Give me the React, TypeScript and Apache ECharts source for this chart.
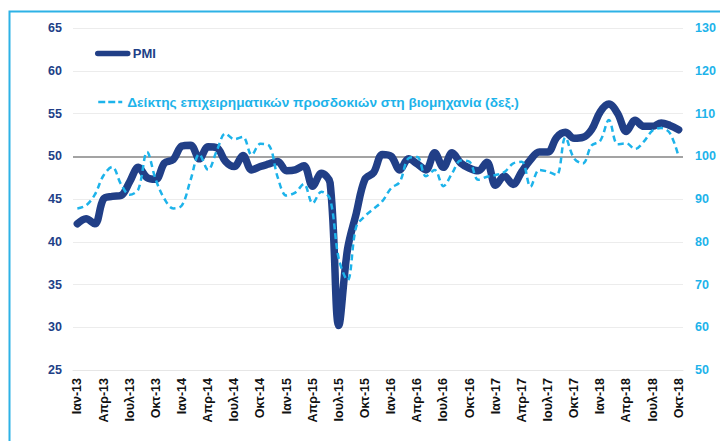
import React, { useEffect, useRef } from "react";
import * as echarts from "echarts";

const monthNames = ["Ιαν", "Φεβ", "Μαρ", "Απρ", "Μαϊ", "Ιουν", "Ιουλ", "Αυγ", "Σεπ", "Οκτ", "Νοε", "Δεκ"];
const years = ["13", "14", "15", "16", "17", "18"];
const categories: string[] = [];
years.forEach((y) => monthNames.forEach((m) => categories.push(`${m}-${y}`)));
categories.splice(70);

const pmi = [
  42.1, 42.7, 42.1, 45.0, 45.3, 45.4, 47.0, 48.7, 47.5, 47.3, 49.2, 49.6,
  51.2, 51.3, 49.7, 51.1, 51.0, 49.4, 48.8, 50.1, 48.4, 48.8, 49.1, 49.4,
  48.3, 48.4, 48.9, 46.5, 48.0, 46.9, 30.2, 39.1, 43.3, 47.3, 48.1, 50.2,
  50.0, 48.4, 49.7, 49.1, 48.4, 50.4, 48.7, 50.4, 49.2, 48.6, 48.3, 49.3,
  46.6, 47.7, 46.7, 48.2, 49.6, 50.5, 50.5, 52.2, 52.8, 52.1, 52.2, 53.1,
  55.2, 56.1, 55.0, 52.9, 54.2, 53.5, 53.5, 53.9, 53.6, 53.1,
];

const expectations = [
  87.8, 88.5, 91.0, 95.5, 97.5, 93.5, 91.0, 92.3, 101.0, 94.5, 90.0, 87.8,
  88.5, 94.5, 100.5, 96.8, 101.3, 105.3, 104.0, 104.5, 100.3, 102.9, 102.5, 95.0,
  90.8, 91.5, 93.5, 89.0, 91.7, 90.0, 76.0, 71.0, 83.5, 86.0, 87.7, 89.5,
  92.5, 94.0, 99.5, 99.8, 95.3, 96.8, 93.0, 96.0, 99.0, 98.7, 94.5, 95.2,
  95.6, 96.3, 98.3, 98.7, 92.9, 96.8, 96.4, 95.6, 104.4, 99.5, 98.3, 102.5,
  103.6, 108.5, 102.8, 103.0, 101.7, 103.4, 106.0, 106.6, 105.4, 99.9,
];

const seriesNames = ["PMI", "Δείκτης επιχειρηματικών προσδοκιών στη βιομηχανία (δεξ.)"];
const NAVY = "#213f87";
const LIGHT = "#1db3ea";
const FONT = "'Liberation Sans', Arial, sans-serif";

export default function App() {
  const ref = useRef<HTMLDivElement>(null);
  useEffect(() => {
    if (!ref.current) return;
    const chart = echarts.init(ref.current, undefined, { renderer: "svg" });
    chart.setOption({
      animation: false,
      backgroundColor: "#ffffff",
      textStyle: { fontFamily: FONT },
      graphic: [
        {
          type: "rect",
          shape: { x: 9.5, y: 11.5, width: 800, height: 600 },
          style: { fill: "none", stroke: "#2db2e6", lineWidth: 2 },
          silent: true,
          z: 0,
        },
      ],
      legend: [
        {
          orient: "vertical",
          left: 95,
          top: 47,
          padding: 0,
          itemWidth: 30,
          itemHeight: 14,
          data: [
            {
              name: seriesNames[0],
              lineStyle: { width: 5.5, cap: "round" },
              itemStyle: { opacity: 0 },
              textStyle: { color: NAVY, fontWeight: "bold", fontSize: 13, fontFamily: FONT },
            },
          ],
        },
        {
          orient: "vertical",
          left: 97,
          top: 95,
          padding: 0,
          itemWidth: 24,
          itemHeight: 14,
          data: [
            {
              name: seriesNames[1],
              lineStyle: { width: 2.5, type: [7, 3] },
              itemStyle: { opacity: 0 },
              textStyle: { color: LIGHT, fontWeight: "bold", fontSize: 13.7, fontFamily: FONT },
            },
          ],
        },
      ],
      grid: { left: 73, right: 37, top: 28, bottom: 71 },
      xAxis: {
        type: "category",
        data: categories,
        boundaryGap: true,
        axisLine: { show: true, lineStyle: { color: "#e6e6e6" } },
        axisTick: { show: false },
        axisLabel: {
          interval: 2,
          rotate: 90,
          margin: 8,
          color: "#111111",
          fontSize: 12.5,
          fontWeight: "bold",
          fontFamily: FONT,
        },
      },
      yAxis: [
        {
          type: "value",
          min: 25,
          max: 65,
          interval: 5,
          axisLine: { show: false },
          axisTick: { show: false },
          splitLine: { lineStyle: { color: "#ececec", width: 1 } },
          axisLabel: { color: NAVY, fontWeight: "bold", fontSize: 12.5, margin: 11, fontFamily: FONT },
        },
        {
          type: "value",
          min: 50,
          max: 130,
          interval: 10,
          position: "right",
          axisLine: { show: false },
          axisTick: { show: false },
          splitLine: { show: false },
          axisLabel: { color: LIGHT, fontWeight: "bold", fontSize: 12.5, margin: 12, fontFamily: FONT },
        },
      ],
      series: [
        {
          name: seriesNames[0],
          type: "line",
          yAxisIndex: 0,
          data: pmi,
          smooth: 0.35,
          symbol: "none",
          z: 3,
          lineStyle: { color: NAVY, width: 7.5, cap: "round", join: "round" },
          itemStyle: { color: NAVY },
          markLine: {
            silent: true,
            symbol: "none",
            label: { show: false },
            lineStyle: { color: "#a3a3a3", width: 2, type: "solid" },
            data: [{ yAxis: 50 }],
            z: 1,
          },
        },
        {
          name: seriesNames[1],
          type: "line",
          yAxisIndex: 1,
          data: expectations,
          smooth: 0.35,
          symbol: "none",
          z: 4,
          lineStyle: { color: LIGHT, width: 2.5, type: [6, 4] },
          itemStyle: { color: LIGHT },
        },
      ],
    });
    return () => chart.dispose();
  }, []);
  return <div ref={ref} style={{ width: 720, height: 441, position: "absolute", left: 0, top: 0 }} />;
}
